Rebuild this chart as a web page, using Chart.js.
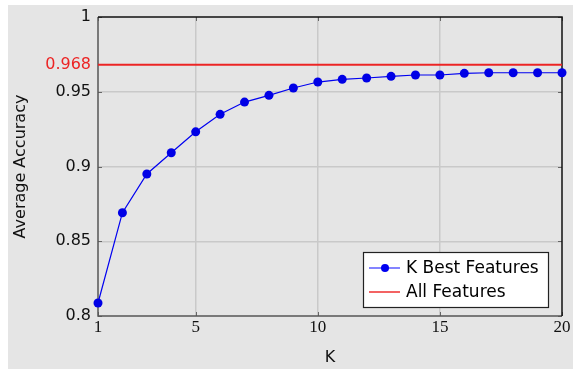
<!DOCTYPE html>
<html lang="en">
<head>
  <meta charset="UTF-8" />
  <title>K Best Features vs All Features</title>
  <script src="https://cdn.jsdelivr.net/npm/chart.js"></script>
  <style>
    * { margin: 0; padding: 0; box-sizing: border-box; }
    body { background: #ffffff; width: 573px; height: 369px; overflow: hidden; }
    .panel {
      position: absolute;
      left: 8px;
      top: 5px;
      width: 565px;
      height: 364px;
      background: #e5e5e5;
    }
    canvas { display: block; }
  </style>
</head>
<body>
  <div class="panel">
    <canvas id="accChart" width="565" height="364"></canvas>
  </div>

  <script>
    // values
    const kValues = [1, 2, 3, 4, 5, 6, 7, 8, 9, 10, 11, 12, 13, 14, 15, 16, 17, 18, 19, 20];
    const kBestAccuracy = [0.8087, 0.8691, 0.8950, 0.9092, 0.9232, 0.9349, 0.9431, 0.9476, 0.9525, 0.9565,
      0.9583, 0.9592, 0.9603, 0.9612, 0.9612, 0.9623, 0.9627, 0.9627, 0.9627, 0.9627];
    const allFeaturesK = [1, 20];
    const allFeaturesAccuracy = [0.968, 0.968];
    const xTickValues = [1, 5, 10, 15, 20];
    const yTickValues = [0.8, 0.85, 0.9, 0.95, 0.968, 1];
    const highlightTick = 0.968;

    const blue = '#0000f0';
    const red = 'rgb(236, 36, 36)';
    const gridColor = '#c9c9c9';
    const sans = "'DejaVu Sans', sans-serif";
    const serif = "'Liberation Serif', serif";

    const frameAndLegend = {
      id: 'frameAndLegend',
      beforeDatasetsDraw(chart) {
        const { ctx, chartArea: a, scales } = chart;
        ctx.save();
        // small inward tick marks
        ctx.strokeStyle = '#666';
        ctx.lineWidth = 1;
        xTickValues.forEach(v => {
          const x = Math.round(scales.x.getPixelForValue(v)) + 0.5;
          ctx.beginPath();
          ctx.moveTo(x, a.bottom); ctx.lineTo(x, a.bottom - 4);
          ctx.moveTo(x, a.top); ctx.lineTo(x, a.top + 4);
          ctx.stroke();
        });
        yTickValues.filter(v => v !== highlightTick).forEach(v => {
          const y = Math.round(scales.y.getPixelForValue(v)) + 0.5;
          ctx.beginPath();
          ctx.moveTo(a.left, y); ctx.lineTo(a.left + 4, y);
          ctx.moveTo(a.right, y); ctx.lineTo(a.right - 4, y);
          ctx.stroke();
        });
        // frame
        ctx.lineWidth = 1.5;
        ctx.strokeStyle = '#555';
        ctx.beginPath();
        ctx.moveTo(a.left, a.top); ctx.lineTo(a.left, a.bottom); ctx.lineTo(a.right, a.bottom);
        ctx.stroke();
        ctx.strokeStyle = '#111';
        ctx.beginPath();
        ctx.moveTo(a.left, a.top); ctx.lineTo(a.right, a.top); ctx.lineTo(a.right, a.bottom);
        ctx.stroke();
        ctx.restore();
      },
      afterDraw(chart) {
        const { ctx, chartArea: a } = chart;
        const w = 185, h = 55;
        const bx = a.right - 14 - w, by = a.bottom - 9 - h;
        ctx.save();
        ctx.fillStyle = '#ffffff';
        ctx.fillRect(bx, by, w, h);
        ctx.strokeStyle = '#222';
        ctx.lineWidth = 1.2;
        ctx.strokeRect(bx + 0.5, by + 0.5, w, h);
        ctx.font = '17px ' + sans;
        ctx.textBaseline = 'middle';
        chart.data.datasets.forEach((ds, i) => {
          const y = by + 16 + i * 24;
          ctx.strokeStyle = i === 0 ? 'rgba(80, 80, 255, 0.7)' : 'rgba(240, 60, 60, 0.8)';
          ctx.lineWidth = 2;
          ctx.beginPath();
          ctx.moveTo(bx + 6, y); ctx.lineTo(bx + 37, y);
          ctx.stroke();
          if (i === 0) {
            ctx.fillStyle = blue;
            ctx.beginPath();
            ctx.arc(bx + 22, y, 4, 0, Math.PI * 2);
            ctx.fill();
          }
          ctx.fillStyle = '#000';
          ctx.fillText(ds.label, bx + 43, y + 1);
        });
        ctx.restore();
      }
    };

    new Chart(document.getElementById('accChart'), {
      type: 'line',
      data: {
        datasets: [
          {
            label: 'K Best Features',
            data: kValues.map((k, i) => ({ x: k, y: kBestAccuracy[i] })),
            borderColor: blue,
            backgroundColor: blue,
            borderWidth: 1.2,
            pointRadius: 4.5,
            pointBorderWidth: 0,
            pointBackgroundColor: '#0000e6',
            tension: 0,
            clip: false
          },
          {
            label: 'All Features',
            data: allFeaturesK.map((k, i) => ({ x: k, y: allFeaturesAccuracy[i] })),
            borderColor: red,
            borderWidth: 2,
            pointRadius: 0,
            tension: 0
          }
        ]
      },
      options: {
        responsive: false,
        animation: false,
        layout: { padding: { top: 12, right: 11, bottom: 2, left: 0 } },
        plugins: {
          legend: { display: false },
          tooltip: { enabled: false }
        },
        scales: {
          x: {
            type: 'linear',
            min: 1,
            max: 20,
            afterBuildTicks: s => { s.ticks = xTickValues.map(v => ({ value: v })); },
            afterFit: s => { s.height = 51; },
            ticks: {
              font: { family: serif, size: 17 },
              color: '#111',
              padding: 1,
              maxRotation: 0
            },
            grid: {
              drawTicks: false,
              lineWidth: 1.5,
              color: c => (c.tick && c.tick.value > 1 && c.tick.value < 20) ? gridColor : 'rgba(0,0,0,0)'
            },
            border: { display: false },
            title: {
              display: true,
              text: 'K',
              font: { family: sans, size: 16 },
              color: '#111',
              padding: { top: 0, bottom: 0 }
            }
          },
          y: {
            min: 0.8,
            max: 1,
            afterBuildTicks: s => { s.ticks = yTickValues.map(v => ({ value: v })); },
            afterFit: s => { s.width = 90; s.paddingTop = 0; },
            ticks: {
              font: { family: sans, size: 16 },
              color: c => c.tick.value === highlightTick ? red : '#111',
              padding: 7,
              callback: v => String(v)
            },
            grid: {
              drawTicks: false,
              lineWidth: 1.5,
              color: c => (c.tick && [0.85, 0.9, 0.95].includes(c.tick.value)) ? gridColor : 'rgba(0,0,0,0)'
            },
            border: { display: false },
            title: {
              display: true,
              text: 'Average Accuracy',
              font: { family: sans, size: 16 },
              color: '#111',
              padding: { top: 3, bottom: 4 }
            }
          }
        }
      },
      plugins: [frameAndLegend]
    });
  </script>
</body>
</html>
